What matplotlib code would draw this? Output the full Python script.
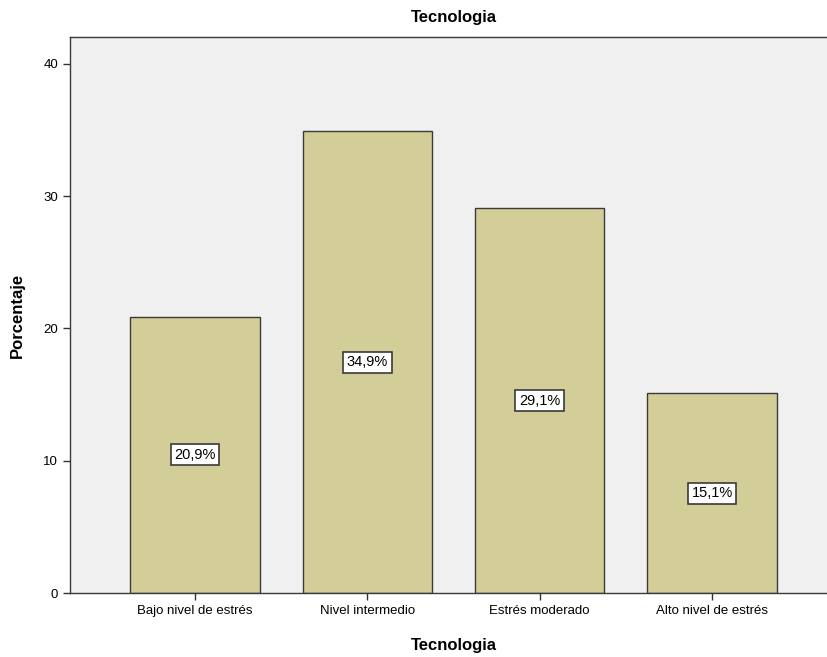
import matplotlib
matplotlib.use("Agg")
import matplotlib.pyplot as plt

categories = ["Bajo nivel de estrés", "Nivel intermedio", "Estrés moderado", "Alto nivel de estrés"]
values = [20.9, 34.9, 29.1, 15.1]
labels = ["20,9%", "34,9%", "29,1%", "15,1%"]
yticks = [0, 10, 20, 30, 40]

plt.rcParams['font.family'] = ['Liberation Sans', 'DejaVu Sans']

fig = plt.figure(figsize=(8.28, 6.57), dpi=100)
ax = fig.add_axes([70/828, 64/657, 767/828, 556/657])
ax.set_facecolor("#F0F0F0")
x = list(range(len(categories)))
ax.bar(x, values, width=0.75, color="#D3CE97", edgecolor="#3A3A3A", linewidth=1.0, zorder=2)
for xi, v, lab in zip(x, values, labels):
    ax.text(xi, v/2, lab, ha="center", va="center", fontsize=10.5, zorder=3,
            bbox=dict(boxstyle="square,pad=0.25", facecolor="white", edgecolor="#3A3A3A", linewidth=1.2))
ax.set_xlim(-0.725, 3.725)
ax.set_ylim(0, 42.04)
ax.set_yticks(yticks)
ax.set_xticks(x)
ax.set_xticklabels(categories, fontsize=9.5)
ax.tick_params(axis='both', labelsize=9.5, length=5, width=1.0, color="#333333")
for s in ax.spines.values():
    s.set_color("#3A3A3A")
    s.set_linewidth(1.0)
ax.set_title("Tecnologia", fontsize=12, fontweight="bold", pad=11)
ax.set_xlabel("Tecnologia", fontsize=12, fontweight="bold", labelpad=15)
ax.set_ylabel("Porcentaje", fontsize=12, fontweight="bold", labelpad=13)
fig.savefig("out.png", dpi=100)
